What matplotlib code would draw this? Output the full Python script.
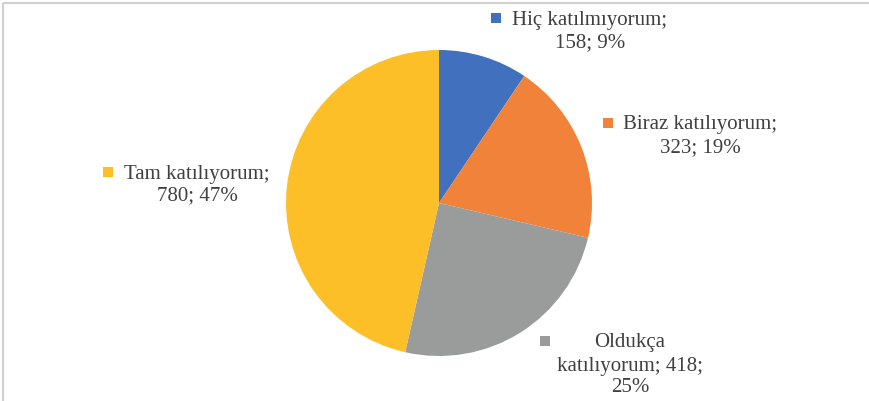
import matplotlib.pyplot as plt
from matplotlib.patches import Rectangle

categories = ['Hiç katılmıyorum', 'Biraz katılıyorum', 'Oldukça katılıyorum', 'Tam katılıyorum']
counts = [158, 323, 418, 780]
percents = [9, 19, 25, 47]
colors = ['#4070BE', '#F0823A', '#9A9C9C', '#FDBF28']

W, H = 869, 401
fig = plt.figure(figsize=(W / 100, H / 100), dpi=100)

# pie: center (439, 203) px, radius 153 px
cx, cy, r = 439, 203, 153
ax = fig.add_axes([(cx - r) / W, (H - cy - r) / H, 2 * r / W, 2 * r / H])
ax.pie(counts, colors=colors, startangle=90, counterclock=False,
       wedgeprops=dict(linewidth=0))
ax.set_xlim(-1, 1)
ax.set_ylim(-1, 1)
ax.set_aspect('equal')
ax.axis('off')

# overlay in pixel coordinates for labels and frame
ov = fig.add_axes([0, 0, 1, 1], zorder=5)
ov.set_xlim(0, W)
ov.set_ylim(H, 0)
ov.axis('off')
ov.patch.set_alpha(0)

ov.add_patch(Rectangle((3, 3), W + 20, H + 20, fill=False, edgecolor='#d0d0d0', linewidth=1.5))

font = dict(family='Liberation Serif', fontsize=15, color='#404040')

# label layout: (square x, square y, list of (text center x, y, text))
layouts = [
    (496, 18, [(590, 20, f'{categories[0]};'), (590, 43, f'{counts[0]}; {percents[0]}%')]),
    (608, 123, [(700, 125, f'{categories[1]};'), (700, 148, f'{counts[1]}; {percents[1]}%')]),
    (545, 341, [(630, 343, 'Oldukça'), (630, 366, f'katılıyorum; {counts[2]};'), (630, 388, f'{percents[2]}%')]),
    (108, 172, [(197, 174, f'{categories[3]};'), (197, 196, f'{counts[3]}; {percents[3]}%')]),
]

for (sx, sy, lines), c in zip(layouts, colors):
    ov.add_patch(Rectangle((sx - 5, sy - 5), 10, 10, color=c, linewidth=0))
    for tx, ty, t in lines:
        ov.text(tx, ty, t, ha='center', va='center', **font)

fig.savefig('out.png', dpi=100)
